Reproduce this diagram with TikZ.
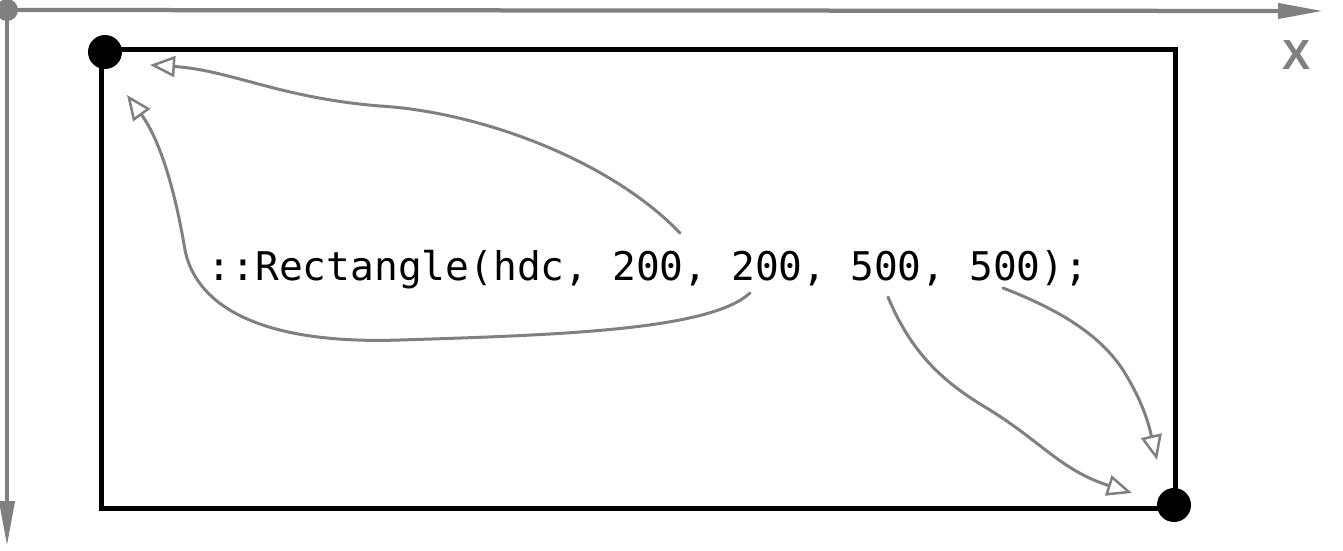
\documentclass[tikz,border=0pt]{standalone}
\usepackage{fontspec}
\usepackage{tikz}
\usetikzlibrary{arrows.meta,positioning}
\newfontfamily\codefont{DejaVu Sans Mono}
\newfontfamily\axisfont{Liberation Sans}
\definecolor{AxisGray}{HTML}{808080}
\definecolor{InkDark}{HTML}{000000}
\tikzset{
  axisline/.style={line width=0.085cm, draw=AxisGray,
             -{Triangle[length=0.9cm, width=0.3cm]}},
  origindot/.style={circle, fill=AxisGray, minimum size=0.44cm, inner sep=0pt},
  cornerdot/.style={circle, fill=InkDark, minimum size=0.68cm, inner sep=0pt},
  frame/.style={line width=0.1cm, draw=InkDark},
  sketch/.style={line width=0.06cm, draw=AxisGray, line cap=round, line join=round,
             -{Triangle[open, length=0.5cm, width=0.42cm, line width=0.05cm]}},
  codetext/.style={font=\codefont\fontsize{22.5}{27}\selectfont, inner sep=0pt},
  axislabel/.style={font=\axisfont\bfseries\fontsize{24}{24}\selectfont, text=AxisGray, inner sep=0pt},
}

\begin{document}
\begin{tikzpicture}[x=0.02cm, y=-0.02cm]
\useasboundingbox (0,0) rectangle (1343,551);
% ---------- axes
\node[origindot] (O) at (7,10) {};
\coordinate (xend) at (1323,11);
\coordinate (yend) at (7,546);
\draw[axisline] (O.center) -- (xend);
\draw[axisline] (O.center) -- (yend);
\node[axislabel] (xlab) at (1297,55) {X};
% ---------- rectangle and its corners
\draw[frame] (101.5,49.5) rectangle (1175.5,508);
\node[cornerdot] (tl) at (105,52) {};
\node[cornerdot] (br) at (1174,505) {};
% ---------- call
\node[codetext, anchor=base] (call) at (648,280) {::Rectangle(hdc, 200, 200, 500, 500);};
% ---------- arrows from the arguments to the corners
\coordinate (s1) at (680,233);
\coordinate (e1) at (150,65);
\coordinate (s2) at (750,293);
\coordinate (e2) at (127,95);
\coordinate (s3) at (888,297);
\coordinate (e3) at (1132,493);
\coordinate (s4) at (1003,288);
\coordinate (e4) at (1157,460);
\draw[sketch] (s1) .. controls (610,160) and (480,112) .. (380,106)
                   .. controls (280,98) and (230,70) .. (e1);
\draw[sketch] (s2) .. controls (710,330) and (560,335) .. (400,340)
                   .. controls (250,345) and (195,300) .. (185,250)
                   .. controls (175,190) and (160,140) .. (e2);
\draw[sketch] (s3) .. controls (910,350) and (940,380) .. (985,407)
                   .. controls (1040,440) and (1060,470) .. (e3);
\draw[sketch] (s4) .. controls (1060,310) and (1100,335) .. (1123,370)
                   .. controls (1145,405) and (1150,430) .. (e4);
\end{tikzpicture}
\end{document}
